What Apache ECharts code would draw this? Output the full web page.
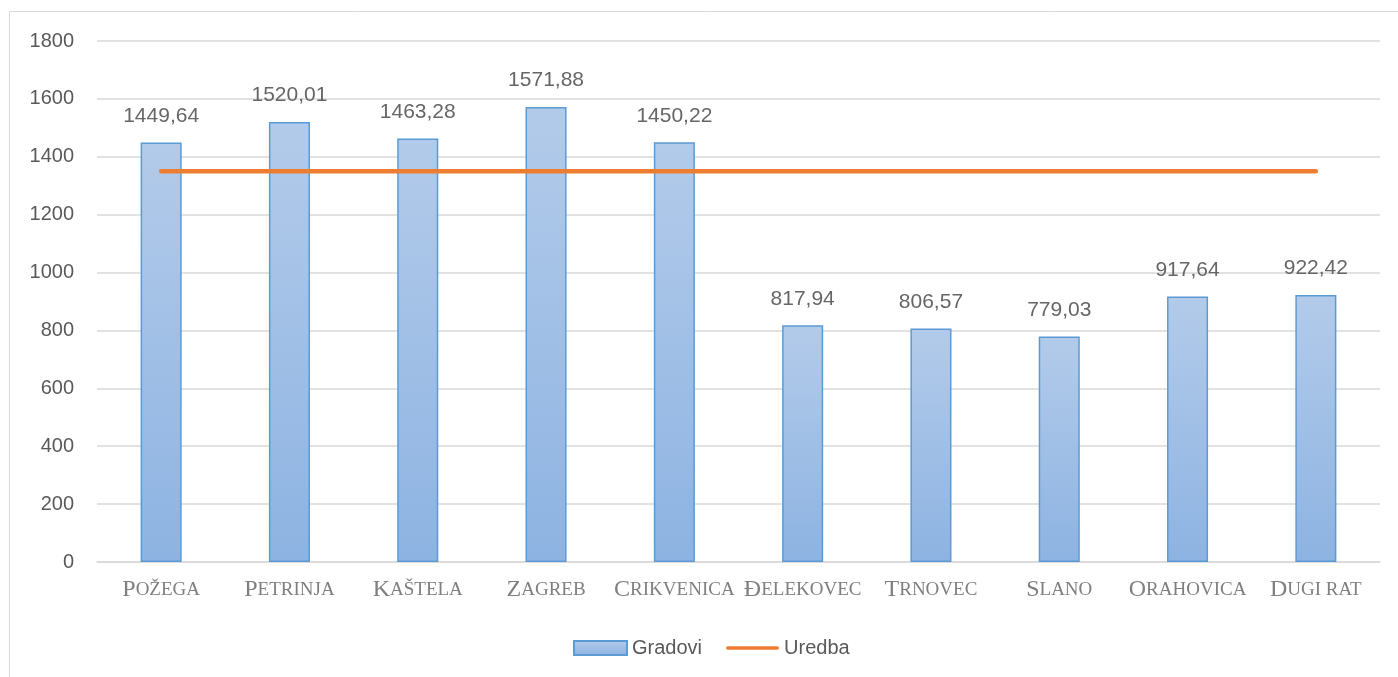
<!DOCTYPE html>
<html>
<head>
<meta charset="utf-8">
<script src="https://cdn.jsdelivr.net/npm/echarts@6/dist/echarts.min.js"></script>
<style>
  html, body { margin: 0; padding: 0; background: #fff; }
  #chart { width: 1398px; height: 677px; }
</style>
</head>
<body>
<div id="chart"></div>
<script>
// podaci
const gradovi = ['Požega', 'Petrinja', 'Kaštela', 'Zagreb', 'Crikvenica', 'Đelekovec', 'Trnovec', 'Slano', 'Orahovica', 'Dugi rat']
const gradoviVrijednosti = [1449.64, 1520.01, 1463.28, 1571.88, 1450.22, 817.94, 806.57, 779.03, 917.64, 922.42]
const uredbaVrijednosti = [1350, 1350, 1350, 1350, 1350, 1350, 1350, 1350, 1350, 1350]
const yTicks = [0, 200, 400, 600, 800, 1000, 1200, 1400, 1600, 1800]

const chart = echarts.init(document.getElementById('chart'))

const sans = '"Liberation Sans", Arial, sans-serif'
const serif = '"Liberation Serif", "Times New Roman", serif'

// decimalni zarez
const fmt = v => v.toFixed(2).replace('.', ',')

// ikona legende za liniju: tanka zaobljena crta unutar okvira 56x14
const lineIcon = 'path://M0,0L0,0M56,14L56,14M1,5L55,5A2,2,0,0,1,55,9L1,9A2,2,0,0,1,1,5Z'

chart.setOption({
  animation: false,
  graphic: [{
    type: 'rect',
    shape: { x: 9.5, y: 11.5, width: 1420, height: 700 },
    style: { fill: 'none', stroke: '#d9d9d9', lineWidth: 1 },
    silent: true
  }],
  grid: { left: 97, right: 18, top: 41, bottom: 115, containLabel: false },
  legend: {
    left: 568,
    top: 633,
    itemWidth: 53,
    itemHeight: 14,
    itemGap: 24,
    textStyle: { fontFamily: sans, fontSize: 20, color: '#595959' },
    data: [
      { name: 'Gradovi', icon: 'rect' },
      { name: 'Uredba', icon: lineIcon, itemStyle: { color: '#ed7d31', borderWidth: 0 } }
    ]
  },
  xAxis: {
    type: 'category',
    data: gradovi,
    axisLine: { lineStyle: { color: '#d9d9d9', width: 1.5 } },
    axisTick: { show: false },
    axisLabel: {
      margin: 16,
      interval: 0,
      formatter: name => '{big|' + name[0].toUpperCase() + '}{small|' + name.slice(1).toUpperCase() + '}',
      rich: {
        big: { fontFamily: serif, fontSize: 24, color: '#7f7f7f' },
        small: { fontFamily: serif, fontSize: 19, color: '#7f7f7f' }
      }
    }
  },
  yAxis: {
    type: 'value',
    min: yTicks[0],
    max: yTicks[yTicks.length - 1],
    interval: 200,
    axisLine: { show: false },
    axisTick: { show: false },
    axisLabel: { margin: 23, fontFamily: sans, fontSize: 20, color: '#595959', formatter: v => String(v) },
    splitLine: { lineStyle: { color: '#d9d9d9', width: 1.5 } }
  },
  series: [
    {
      name: 'Gradovi',
      type: 'bar',
      data: gradoviVrijednosti,
      barWidth: '32%',
      itemStyle: {
        color: new echarts.graphic.LinearGradient(0, 0, 0, 1, [
          { offset: 0, color: '#b3cbea' },
          { offset: 1, color: '#8db3e2' }
        ]),
        borderColor: '#5b9bd5',
        borderWidth: 1.5
      },
      label: {
        show: true,
        position: 'top',
        distance: 16,
        formatter: p => fmt(p.value),
        fontFamily: sans,
        fontSize: 21,
        color: '#666666'
      }
    },
    {
      name: 'Uredba',
      type: 'line',
      data: uredbaVrijednosti,
      symbol: 'none',
      lineStyle: { color: '#ed7d31', width: 4.5, cap: 'round' },
      itemStyle: { color: '#ed7d31' },
      z: 3
    }
  ]
})
</script>
</body>
</html>
